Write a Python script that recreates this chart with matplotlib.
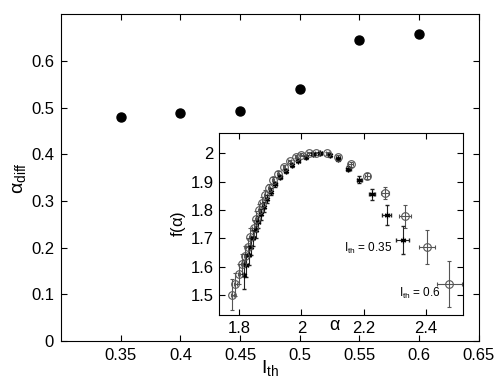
import matplotlib.pyplot as plt
import numpy as np

plt.rcParams['font.family'] = ['Liberation Sans', 'DejaVu Sans']
plt.rcParams['mathtext.fontset'] = 'custom'
plt.rcParams['mathtext.rm'] = 'Liberation Sans'
plt.rcParams['mathtext.it'] = 'Liberation Sans'

# main panel: alpha_diff vs threshold
ith = [0.35, 0.40, 0.45, 0.50, 0.55, 0.60]
alpha_diff = [0.480, 0.488, 0.493, 0.539, 0.645, 0.658]

# inset: f(alpha) spectra, I_th = 0.6 (circles)
a_06 = [1.778, 1.787, 1.799, 1.808, 1.818, 1.827, 1.835, 1.846, 1.853, 1.863,
        1.872, 1.884, 1.896, 1.909, 1.924, 1.943, 1.962, 1.982, 2.000, 2.024,
        2.048, 2.083, 2.118, 2.158, 2.212, 2.269, 2.333, 2.405, 2.475]
f_06 = [1.502, 1.538, 1.575, 1.610, 1.639, 1.670, 1.705, 1.738, 1.770, 1.800,
        1.825, 1.852, 1.878, 1.905, 1.928, 1.952, 1.971, 1.987, 1.994, 2.000,
        2.000, 1.999, 1.987, 1.961, 1.920, 1.860, 1.778, 1.669, 1.540]
xe_06 = [0.004, 0.004, 0.004, 0.004, 0.004, 0.004, 0.004, 0.004, 0.004, 0.004,
         0.004, 0.004, 0.004, 0.004, 0.004, 0.004, 0.004, 0.004, 0.004, 0.005,
         0.005, 0.005, 0.006, 0.007, 0.008, 0.012, 0.020, 0.026, 0.040]
ye_06 = [0.055, 0.040, 0.035, 0.035, 0.035, 0.030, 0.030, 0.028, 0.025, 0.022,
         0.020, 0.018, 0.015, 0.012, 0.010, 0.008, 0.006, 0.005, 0.005, 0.005,
         0.005, 0.006, 0.008, 0.008, 0.012, 0.022, 0.040, 0.060, 0.080]

# I_th = 0.35 (asterisks)
a_035 = [1.815, 1.823, 1.830, 1.838, 1.844, 1.853, 1.861, 1.870, 1.878, 1.889,
         1.902, 1.916, 1.932, 1.949, 1.969, 1.990, 2.013, 2.038, 2.061, 2.091,
         2.118, 2.151, 2.186, 2.228, 2.274, 2.325]
f_035 = [1.573, 1.605, 1.640, 1.670, 1.700, 1.728, 1.758, 1.785, 1.810, 1.838,
         1.864, 1.890, 1.916, 1.938, 1.958, 1.973, 1.985, 1.996, 1.999, 1.992,
         1.978, 1.946, 1.907, 1.855, 1.784, 1.695]
xe_035 = [0.004, 0.004, 0.004, 0.004, 0.004, 0.004, 0.004, 0.004, 0.004, 0.004,
          0.004, 0.004, 0.004, 0.004, 0.004, 0.004, 0.004, 0.004, 0.005, 0.005,
          0.006, 0.007, 0.008, 0.010, 0.015, 0.022]
ye_035 = [0.050, 0.040, 0.035, 0.030, 0.028, 0.025, 0.022, 0.020, 0.018, 0.015,
          0.012, 0.010, 0.008, 0.006, 0.005, 0.005, 0.005, 0.005, 0.005, 0.006,
          0.007, 0.010, 0.012, 0.018, 0.035, 0.050]

fig = plt.figure(figsize=(4.98, 3.82), dpi=100)
ax = fig.add_axes([0.1225, 0.107, 0.839, 0.856])
ax.plot(ith, alpha_diff, 'o', color='black', markersize=6.5)
ax.set_xlim(0.3, 0.65)
ax.set_ylim(0, 0.7)
ax.set_xticks([0.35, 0.4, 0.45, 0.5, 0.55, 0.6, 0.65])
ax.set_xticklabels(['0.35', '0.4', '0.45', '0.5', '0.55', '0.6', '0.65'])
ax.set_yticks([0, 0.1, 0.2, 0.3, 0.4, 0.5, 0.6])
ax.set_yticklabels(['0', '0.1', '0.2', '0.3', '0.4', '0.5', '0.6'])
ax.tick_params(direction='in', top=True, right=True, labelsize=12, length=4, pad=5)
ax.set_xlabel(r'$\mathregular{I_{th}}$', fontsize=14, labelpad=-4)
ax.set_ylabel(r'$\mathregular{\alpha_{diff}}$', fontsize=14, labelpad=2)

ins = fig.add_axes([0.44, 0.175, 0.49, 0.476])
ins.errorbar(a_06, f_06, xerr=xe_06, yerr=ye_06, fmt='o', mfc='none',
             mec='#555555', ecolor='#555555', color='#555555',
             markersize=5.5, elinewidth=0.8, capsize=1.5, mew=0.8)
ins.errorbar(a_035, f_035, xerr=xe_035, yerr=ye_035, fmt='none',
             ecolor='#222222', elinewidth=0.8, capsize=1.5)
ins.plot(a_035, f_035, linestyle='none', marker=(6, 2, 0), color='black',
         markersize=4, mew=0.9)
ins.set_xlim(1.735, 2.52)
ins.set_ylim(1.43, 2.07)
ins.set_xticks([1.8, 2.0, 2.2, 2.4])
ins.set_xticklabels(['1.8', '2', '2.2', '2.4'])
ins.set_yticks([1.5, 1.6, 1.7, 1.8, 1.9, 2.0])
ins.set_yticklabels(['1.5', '1.6', '1.7', '1.8', '1.9', '2'])
ins.tick_params(direction='in', top=True, right=True, labelsize=12, length=4, pad=4)
ins.set_ylabel(r'f($\mathregular{\alpha}$)', fontsize=12, labelpad=2)
ins.text(2.108, 1.425, r'$\mathregular{\alpha}$', fontsize=13, ha='center', va='top')
ins.text(2.294, 1.664, r'$\mathregular{I_{th}}$ = 0.35', fontsize=8.5, ha='right', va='center')
ins.text(2.448, 1.508, r'$\mathregular{I_{th}}$ = 0.6', fontsize=8.5, ha='right', va='center')

fig.savefig('out.png', dpi=100)
